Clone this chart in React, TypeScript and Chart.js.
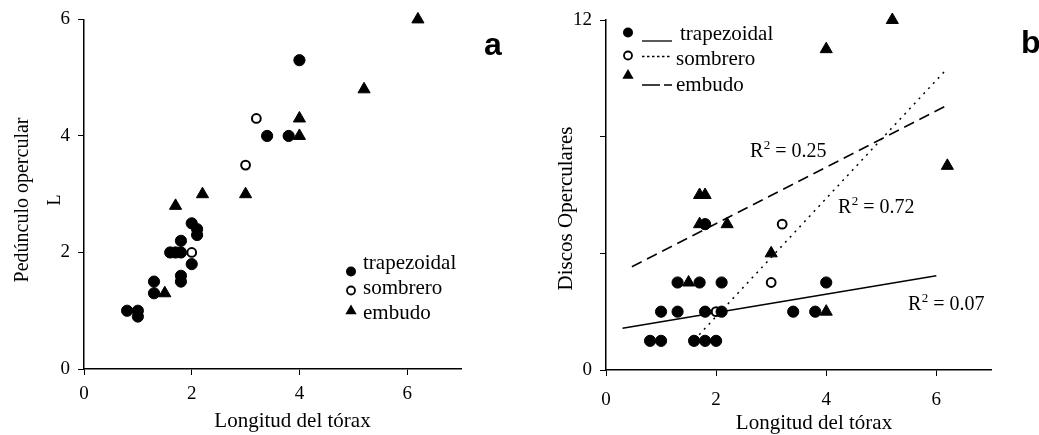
import React, { useEffect, useRef } from 'react';
import { Chart, registerables } from 'chart.js';

Chart.register(...registerables);

// ---------- data ----------
const seriesNames = ['trapezoidal', 'sombrero', 'embudo'];

const xTicks = [0, 2, 4, 6];
const xTickLabels = ['0', '2', '4', '6'];
const yTicksA = [0, 2, 4, 6];
const yTickLabelsA = ['0', '2', '4', '6'];
const yTicksB = [0, 4, 8, 12];
const yTickLabelsB = ['0', '', '', '12'];

// Panel a: Pedúnculo opercular vs Longitud del tórax
const trapAx = [0.8, 1.0, 1.0, 1.3, 1.3, 1.6, 1.7, 1.8, 1.8, 1.8, 1.8, 2.0, 2.1, 2.1, 2.0, 3.4, 3.8, 4.0];
const trapAy = [1.0, 1.0, 0.9, 1.5, 1.3, 2.0, 2.0, 2.2, 2.0, 1.6, 1.5, 2.5, 2.4, 2.3, 1.8, 4.0, 4.0, 5.3];
const sombAx = [2.0, 3.0, 3.2];
const sombAy = [2.0, 3.5, 4.3];
const embAx = [1.5, 1.7, 2.2, 3.0, 4.0, 4.0, 5.2, 6.2];
const embAy = [1.3, 2.8, 3.0, 3.0, 4.0, 4.3, 4.8, 6.0];

// Panel b: Discos Operculares vs Longitud del tórax
const trapBx = [0.8, 1.0, 1.6, 1.8, 2.0, 1.0, 1.3, 1.8, 2.1, 3.4, 3.8, 1.3, 1.7, 2.1, 4.0, 1.8];
const trapBy = [1, 1, 1, 1, 1, 2, 2, 2, 2, 2, 2, 3, 3, 3, 3, 5];
const sombBx = [2.0, 3.0, 3.2];
const sombBy = [2, 3, 5];
const embBx = [4.0, 1.5, 3.0, 1.7, 2.2, 1.7, 1.8, 6.2, 4.0, 5.2];
const embBy = [2, 3, 4, 5, 5, 6, 6, 7, 11, 12];

// Regression lines (panel b), end points
const trapLineX = [0.3, 6.0];
const trapLineY = [1.43, 3.23];
const sombLineX = [1.52, 6.2];
const sombLineY = [0.86, 10.34];
const embLineX = [0.47, 6.24];
const embLineY = [3.54, 9.12];

const r2Values = ['0.07', '0.72', '0.25'];

// ---------- styling helpers ----------
const SERIF = '"Liberation Serif", "Times New Roman", serif';
const SANS = '"Liberation Sans", Arial, sans-serif';

const pts = (xs: number[], ys: number[]) => xs.map((x, i) => ({ x, y: ys[i] }));

function markerDataset(kind: number, data: any[]) {
  const base: any = { data, clip: false, showLine: false };
  if (kind === 0) {
    return { ...base, pointStyle: 'circle', pointRadius: 5.6, pointBackgroundColor: '#000', pointBorderColor: '#000', pointBorderWidth: 1, backgroundColor: '#000', borderColor: '#000' };
  }
  if (kind === 1) {
    return { ...base, pointStyle: 'circle', pointRadius: 4.4, pointBackgroundColor: '#fff', pointBorderColor: '#000', pointBorderWidth: 2, backgroundColor: '#fff', borderColor: '#000' };
  }
  return { ...base, pointStyle: 'triangle', pointRadius: 7, pointBackgroundColor: '#000', pointBorderColor: '#000', pointBorderWidth: 1, backgroundColor: '#000', borderColor: '#000' };
}

function lineDataset(data: any[], dash: number[]) {
  return { data, showLine: true, pointRadius: 0, borderColor: '#000', borderWidth: 1.5, borderDash: dash, fill: false, clip: false };
}

function axis(horizontal: boolean, min: number, max: number, ticks: number[], labels: string[], boxSize: number, pad: number) {
  return {
    type: 'linear',
    min,
    max,
    afterBuildTicks: (s: any) => { s.ticks = ticks.map((v) => ({ value: v })); },
    afterFit: (s: any) => { if (horizontal) s.height = boxSize; else s.width = boxSize; },
    ticks: {
      callback: (_v: any, i: number) => labels[i],
      font: { family: SERIF, size: 19 },
      color: '#000',
      padding: pad,
      autoSkip: false,
      maxRotation: 0,
    },
    grid: { drawOnChartArea: false, drawTicks: true, tickLength: 6, color: '#000', lineWidth: 1 },
    border: { display: true, color: '#000', width: 1.5 },
    title: { display: false },
  };
}

function drawMarker(ctx: CanvasRenderingContext2D, kind: number, x: number, y: number, r: number) {
  ctx.save();
  ctx.beginPath();
  if (kind === 2) {
    const h = r * 1.5;
    ctx.moveTo(x, y - r);
    ctx.lineTo(x + r * 0.866, y + h - r);
    ctx.lineTo(x - r * 0.866, y + h - r);
    ctx.closePath();
    ctx.fillStyle = '#000';
    ctx.fill();
  } else {
    ctx.arc(x, y, r, 0, Math.PI * 2);
    if (kind === 0) {
      ctx.fillStyle = '#000';
      ctx.fill();
    } else {
      ctx.fillStyle = '#fff';
      ctx.fill();
      ctx.lineWidth = 1.8;
      ctx.strokeStyle = '#000';
      ctx.stroke();
    }
  }
  ctx.restore();
}

function rotText(ctx: CanvasRenderingContext2D, text: string, x: number, y: number, font: string) {
  ctx.save();
  ctx.translate(x, y);
  ctx.rotate(-Math.PI / 2);
  ctx.font = font;
  ctx.fillStyle = '#000';
  ctx.textAlign = 'center';
  ctx.textBaseline = 'alphabetic';
  ctx.fillText(text, 0, 0);
  ctx.restore();
}

function text(ctx: CanvasRenderingContext2D, t: string, x: number, y: number, font: string, align: CanvasTextAlign = 'left') {
  ctx.save();
  ctx.font = font;
  ctx.fillStyle = '#000';
  ctx.textAlign = align;
  ctx.textBaseline = 'alphabetic';
  ctx.fillText(t, x, y);
  const w = ctx.measureText(t).width;
  ctx.restore();
  return w;
}

function r2Label(ctx: CanvasRenderingContext2D, value: string, x: number, y: number) {
  const f = `20px ${SERIF}`;
  let cx = x;
  cx += text(ctx, 'R', cx, y, f);
  cx += text(ctx, '2', cx + 0.5, y - 8, `13px ${SERIF}`) + 0.5;
  text(ctx, ' = ' + value, cx, y, f);
}

// ---------- panel plugins ----------
const panelAText = {
  id: 'panelAText',
  afterDraw(chart: any) {
    const ctx = chart.ctx as CanvasRenderingContext2D;
    rotText(ctx, 'Pedúnculo opercular', 28, 200, `20px ${SERIF}`);
    rotText(ctx, 'L', 60, 200, `18px ${SERIF}`);
    text(ctx, 'Longitud del tórax', 292.5, 427, `21px ${SERIF}`, 'center');
    // legend
    const mx = 351;
    const markerY = [271.5, 290.5, 311];
    const textY = [268.5, 294, 319];
    const radii = [5, 4, 6.5];
    for (let i = 0; i < 3; i++) {
      drawMarker(ctx, i, mx, markerY[i], radii[i]);
      text(ctx, seriesNames[i], 363, textY[i], `21px ${SERIF}`);
    }
    text(ctx, 'a', 484, 55, `bold 32px ${SANS}`);
  },
};

const OFF = 520;
const panelBText = {
  id: 'panelBText',
  afterDraw(chart: any) {
    const ctx = chart.ctx as CanvasRenderingContext2D;
    rotText(ctx, 'Discos Operculares', 572 - OFF, 208.5, `21px ${SERIF}`);
    text(ctx, 'Longitud del tórax', 814 - OFF, 429, `21px ${SERIF}`, 'center');
    // legend
    const mx = 628 - OFF;
    const markerY = [32.5, 55.5, 75.5];
    const radii = [5, 4, 6.5];
    const lineY = [41, 56.5, 85];
    const dashes = [[], [2.5, 2.5], [18, 4, 8, 100]];
    const textX = [680 - OFF, 676 - OFF, 676 - OFF];
    const textY = [40, 65, 91];
    for (let i = 0; i < 3; i++) {
      drawMarker(ctx, i, mx, markerY[i], radii[i]);
      ctx.save();
      ctx.strokeStyle = '#000';
      ctx.lineWidth = 1.3;
      ctx.setLineDash(dashes[i]);
      ctx.beginPath();
      ctx.moveTo(642 - OFF, lineY[i]);
      ctx.lineTo(672 - OFF, lineY[i]);
      ctx.stroke();
      ctx.restore();
      text(ctx, seriesNames[i], textX[i], textY[i], `21px ${SERIF}`);
    }
    // R² labels
    r2Label(ctx, r2Values[0], 908 - OFF, 310);
    r2Label(ctx, r2Values[1], 838 - OFF, 213);
    r2Label(ctx, r2Values[2], 750 - OFF, 157);
    text(ctx, 'b', 1021 - OFF, 53, `bold 32px ${SANS}`);
  },
};

function configA(): any {
  return {
    type: 'scatter',
    data: {
      datasets: [
        { label: seriesNames[0], ...markerDataset(0, pts(trapAx, trapAy)) },
        { label: seriesNames[1], ...markerDataset(1, pts(sombAx, sombAy)) },
        { label: seriesNames[2], ...markerDataset(2, pts(embAx, embAy)) },
      ],
    },
    options: {
      responsive: false,
      maintainAspectRatio: false,
      animation: false,
      events: [],
      layout: { padding: { left: 0, top: 19, right: 59, bottom: 0 } },
      plugins: { legend: { display: false }, tooltip: { enabled: false } },
      scales: {
        x: axis(true, 0, 7, xTicks, xTickLabels, 66, 8),
        y: axis(false, 0, 6, yTicksA, yTickLabelsA, 84, 8),
      },
    },
    plugins: [panelAText],
  };
}

function configB(): any {
  return {
    type: 'scatter',
    data: {
      datasets: [
        { label: seriesNames[0], ...markerDataset(0, pts(trapBx, trapBy)) },
        { label: seriesNames[1], ...markerDataset(1, pts(sombBx, sombBy)) },
        { label: seriesNames[2], ...markerDataset(2, pts(embBx, embBy)) },
        { label: seriesNames[0] + ' fit', ...lineDataset(pts(trapLineX, trapLineY), []) },
        { label: seriesNames[1] + ' fit', ...lineDataset(pts(sombLineX, sombLineY), [2, 5]) },
        { label: seriesNames[2] + ' fit', ...lineDataset(pts(embLineX, embLineY), [11, 6]) },
      ],
    },
    options: {
      responsive: false,
      maintainAspectRatio: false,
      animation: false,
      events: [],
      layout: { padding: { left: 0, top: 20, right: 47.6, bottom: 0 } },
      plugins: { legend: { display: false }, tooltip: { enabled: false } },
      scales: {
        x: axis(true, 0, 7, xTicks, xTickLabels, 65, 13),
        y: axis(false, 0, 12, yTicksB, yTickLabelsB, 86, 8),
      },
    },
    plugins: [panelBText],
  };
}

export default function App() {
  const refA = useRef<HTMLCanvasElement>(null);
  const refB = useRef<HTMLCanvasElement>(null);
  useEffect(() => {
    const a = new Chart(refA.current as HTMLCanvasElement, configA());
    const b = new Chart(refB.current as HTMLCanvasElement, configB());
    return () => {
      a.destroy();
      b.destroy();
    };
  }, []);
  return (
    <div style={{ position: 'absolute', left: 0, top: 0, width: 1039, height: 435, background: '#fff', overflow: 'hidden' }}>
      <canvas ref={refA} width={520} height={435} style={{ position: 'absolute', left: 0, top: 0, width: 520, height: 435 }} />
      <canvas ref={refB} width={519} height={435} style={{ position: 'absolute', left: 520, top: 0, width: 519, height: 435 }} />
    </div>
  );
}
